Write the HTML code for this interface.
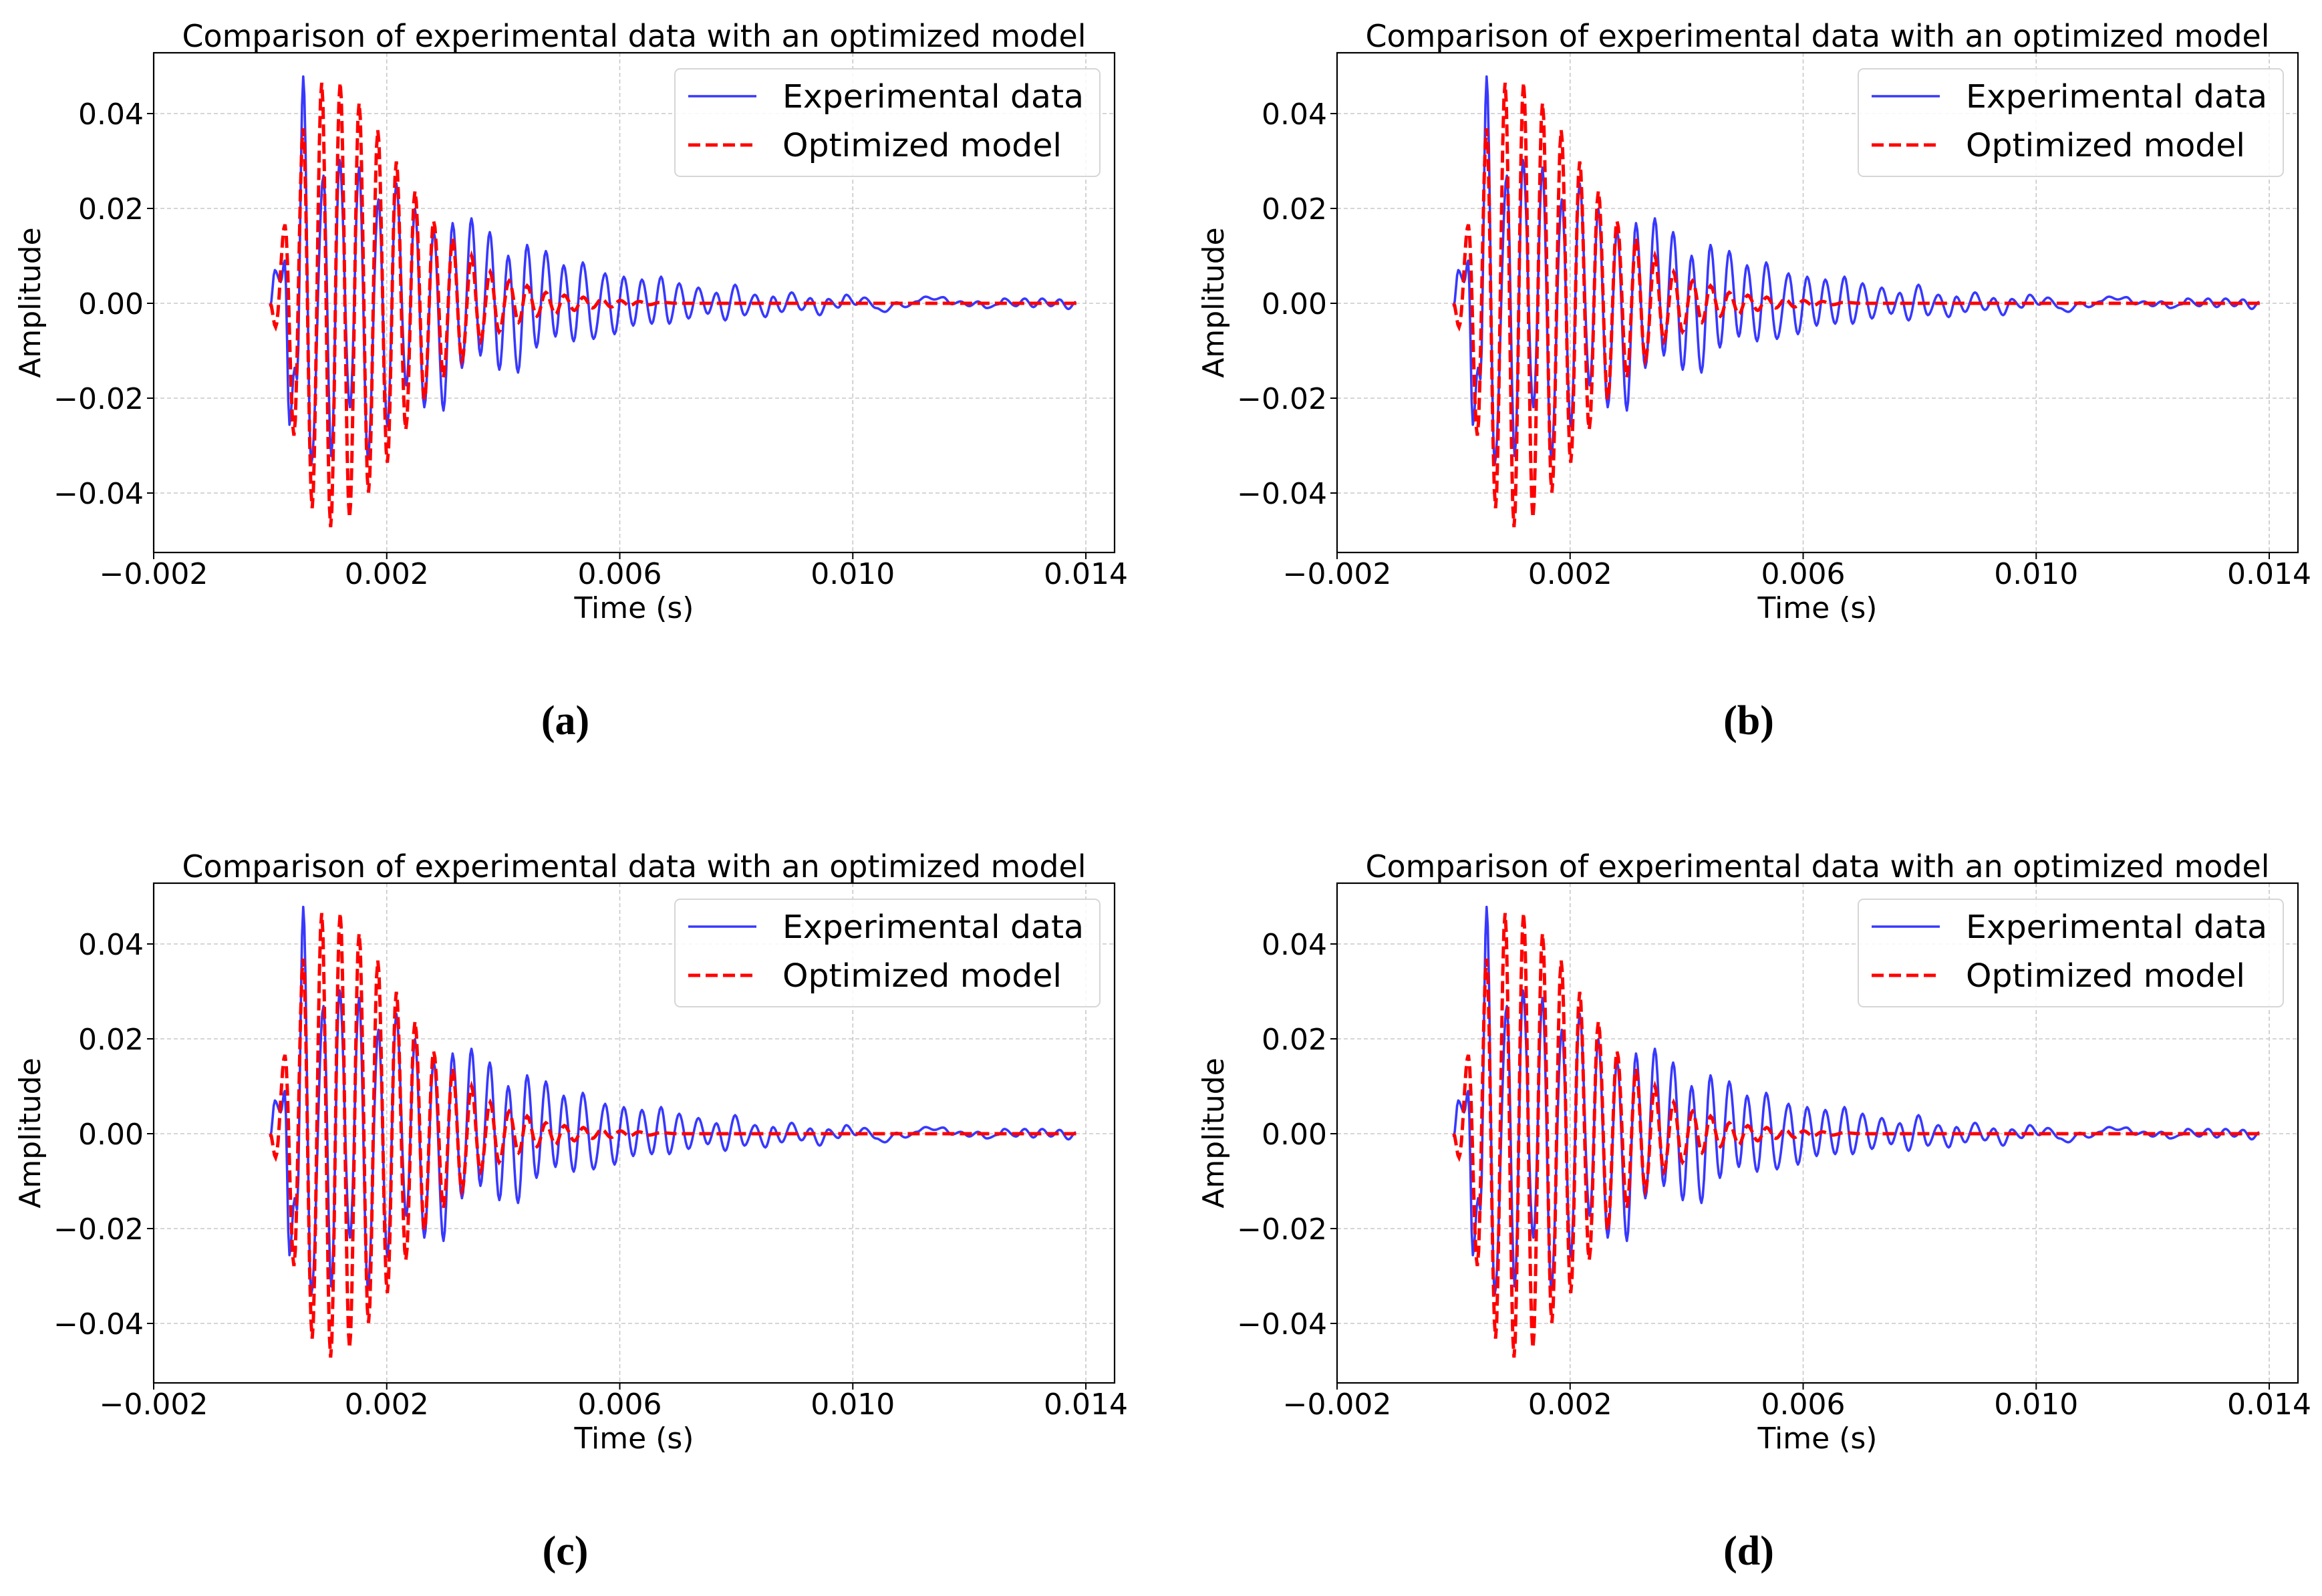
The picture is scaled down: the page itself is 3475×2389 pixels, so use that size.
<!DOCTYPE html>
<html><head><meta charset="utf-8"><style>
html,body{margin:0;padding:0;background:#fff;}
svg{display:block;}
text{font-family:"DejaVu Sans","Liberation Sans",sans-serif;fill:#000;}
.cap{font-family:"Liberation Serif",serif;font-weight:bold;}
</style></head><body>
<svg id="fig" width="3475" height="2389" viewBox="0 0 3475 2389" xmlns="http://www.w3.org/2000/svg"></svg>
<script>
// Time in ms, amplitude values
const expT = [0.0,0.08,0.18,0.25,0.33,0.42,0.46,0.567,0.705,0.915,1.049,1.19,1.369,1.526,1.675,1.858,2.011,2.164,2.336,2.485,2.645,2.806,2.974,3.131,3.291,3.455,3.608,3.769,3.933,4.086,4.254,4.41,4.571,4.731,4.896,5.037,5.209,5.366,5.55,5.75,5.91,6.07,6.23,6.38,6.55,6.71,6.85,7.02,7.18,7.35,7.51,7.66,7.81,7.98,8.14,8.32,8.5,8.63,8.78,8.95,9.12,9.27,9.43,9.58,9.75,9.89,10.05,10.2,10.4,10.55,10.75,10.9,11.1,11.25,11.4,11.55,11.7,11.85,12.0,12.15,12.3,12.5,12.6,12.8,12.95,13.1,13.25,13.4,13.55,13.7,13.83];
const expV = [-0.0007,0.0070,0.0045,0.0090,-0.0256,-0.0136,-0.0160,0.0478,-0.0339,0.0269,-0.0322,0.0302,-0.0219,0.0286,-0.0326,0.0219,-0.0259,0.0253,-0.0173,0.0199,-0.0219,0.0153,-0.0226,0.0169,-0.0136,0.0179,-0.0110,0.0150,-0.0140,0.0100,-0.0146,0.0123,-0.0093,0.0110,-0.0070,0.0080,-0.0080,0.0086,-0.0075,0.0063,-0.0065,0.0056,-0.0047,0.0050,-0.0043,0.0056,-0.0043,0.0042,-0.0032,0.0033,-0.0022,0.0022,-0.0036,0.0039,-0.0025,0.0018,-0.0029,0.0014,-0.0018,0.0023,-0.0014,0.0011,-0.0025,0.0009,-0.0009,0.0018,-0.0003,0.0012,-0.0010,-0.0018,0.0002,-0.0008,0.0004,0.0014,0.0008,0.0013,-0.0002,0.0004,-0.0006,0.0004,-0.0010,-0.0002,0.0010,-0.0006,0.0010,-0.0008,0.0010,-0.0006,0.0008,-0.0012,0.0003];
const modT = [0.0,0.093,0.254,0.407,0.567,0.72,0.884,1.037,1.201,1.362,1.526,1.687,1.847,2.011,2.164,2.328,2.485,2.645,2.806,2.974,3.131,3.291,3.455,3.608,3.776,3.929,4.101,4.265,4.41,4.579,4.731,4.896,5.048,5.221,5.373,5.53,5.69,5.85,6.01,6.17,6.33,6.5,6.7,7.0,13.85];
const modV = [0.0,-0.0050,0.0166,-0.0279,0.0369,-0.0432,0.0465,-0.0472,0.0465,-0.0452,0.0422,-0.0399,0.0365,-0.0336,0.0299,-0.0266,0.0236,-0.0203,0.0173,-0.0156,0.0136,-0.0120,0.0100,-0.0080,0.0066,-0.0060,0.0047,-0.0040,0.0037,-0.0027,0.0023,-0.0023,0.0017,-0.0015,0.0013,-0.0010,0.0009,-0.0008,0.0006,-0.0005,0.0004,-0.0003,0.0002,0.0,0.0];
const xTicks = [-2,2,6,10,14];
const xTickLabels = ["\u22120.002","0.002","0.006","0.010","0.014"];
const yTicks = [0.04,0.02,0,-0.02,-0.04];
const yTickLabels = ["0.04","0.02","0.00","\u22120.02","\u22120.04"];
const panelLetters = ["(a)","(b)","(c)","(d)"];

const NS="http://www.w3.org/2000/svg";
const fig=document.getElementById('fig');
function mk(tag,attrs,parent){const e=document.createElementNS(NS,tag);for(const k in attrs)e.setAttribute(k,attrs[k]);parent.appendChild(e);return e;}

function pathFrom(T,V,X,Y){
  let d='M'+X(T[0]).toFixed(1)+','+Y(V[0]).toFixed(1);
  for(let i=1;i<T.length;i++){
    const n=Math.max(2,Math.ceil((X(T[i])-X(T[i-1]))/2));
    for(let k=1;k<=n;k++){
      const f=k/n, s=(1-Math.cos(Math.PI*f))/2;
      const t=T[i-1]+(T[i]-T[i-1])*f, v=V[i-1]+(V[i]-V[i-1])*s;
      d+='L'+X(t).toFixed(1)+','+Y(v).toFixed(1);
    }
  }
  return d;
}

const offs=[[0,0],[1771,0],[0,1243],[1771,1243]];
offs.forEach((o,pi)=>{
  const ox=o[0], oy=o[1];
  const L=ox+230, R=ox+1668, T0=oy+79, B=oy+827;
  const X=t=>ox+230+(t+2)*87.19;
  const Y=v=>oy+454-v*7100;
  const g=mk('g',{},fig);
  
  
  // grid
  xTicks.forEach(t=>{
    const l=mk('line',{x1:X(t),x2:X(t),y1:T0,y2:B,stroke:'#c8c8c8','stroke-width':1.6,'stroke-dasharray':'6,4'},g);
    
    
  });
  yTicks.forEach(v=>{
    const l=mk('line',{x1:L,x2:R,y1:Y(v),y2:Y(v),stroke:'#c8c8c8','stroke-width':1.6,'stroke-dasharray':'6,4'},g);
    
    
  });
  // series
  const pe=mk('path',{d:pathFrom(expT,expV,X,Y),fill:'none',stroke:'rgba(0,0,255,0.78)','stroke-width':3.6,'stroke-linejoin':'round'},g);
  
  
  const pm=mk('path',{d:pathFrom(modT,modV,X,Y),fill:'none',stroke:'#ff0000','stroke-width':5,'stroke-dasharray':'18,8'},g);
  
  
  // frame
  const fr=mk('rect',{x:L,y:T0,width:R-L,height:B-T0,fill:'none',stroke:'#000','stroke-width':2.2},g);
  
  
  // x ticks
  xTicks.forEach((t,i)=>{
    const tk=mk('line',{x1:X(t),x2:X(t),y1:B,y2:B+10,stroke:'#000','stroke-width':2},g);
    
    
    const tx=mk('text',{x:X(t),y:B+47,'font-size':44,'text-anchor':'middle'},g);
    tx.textContent=xTickLabels[i];
    
    
  });
  yTicks.forEach((v,i)=>{
    const tk=mk('line',{x1:L-10,x2:L,y1:Y(v),y2:Y(v),stroke:'#000','stroke-width':2},g);
    
    
    const tx=mk('text',{x:L-15,y:Y(v)+16,'font-size':44,'text-anchor':'end'},g);
    tx.textContent=yTickLabels[i];
    
    
  });
  const title=mk('text',{x:(L+R)/2,y:oy+70,'font-size':46,'text-anchor':'middle',textLength:1353,lengthAdjust:'spacingAndGlyphs'},g);
  title.textContent='Comparison of experimental data with an optimized model';
  
  
  const xl=mk('text',{x:(L+R)/2,y:oy+925,'font-size':44,'text-anchor':'middle'},g);
  xl.textContent='Time (s)';
  
  
  const yl=mk('text',{x:0,y:0,'font-size':44,'text-anchor':'middle',transform:'translate('+(ox+60)+','+(oy+453)+') rotate(-90)'},g);
  yl.textContent='Amplitude';
  
  
  // legend
  const lg=mk('g',{},g);
  
  
  const lb=mk('rect',{x:ox+1010,y:oy+103,width:636,height:161,rx:8,fill:'rgba(255,255,255,0.85)',stroke:'#d6d6d6','stroke-width':2},lg);
  
  
  const h1=mk('line',{x1:ox+1030,x2:ox+1132,y1:oy+144,y2:oy+144,stroke:'rgba(0,0,255,0.78)','stroke-width':3.6},lg);
  
  
  const t1=mk('text',{x:ox+1171,y:oy+161,'font-size':48,textLength:451,lengthAdjust:'spacingAndGlyphs'},lg);
  t1.textContent='Experimental data';
  
  
  const h2=mk('line',{x1:ox+1030,x2:ox+1132,y1:oy+217,y2:oy+217,stroke:'#ff0000','stroke-width':5,'stroke-dasharray':'18,8'},lg);
  
  
  const t2=mk('text',{x:ox+1171,y:oy+234,'font-size':48,textLength:418,lengthAdjust:'spacingAndGlyphs'},lg);
  t2.textContent='Optimized model';
  
  
  // caption
  const cp=mk('text',{x:ox+846,y:oy+1099,'font-size':62,'text-anchor':'middle','class':'cap'},g);
  cp.textContent=panelLetters[pi];
  
  
});
</script>
</body></html>
